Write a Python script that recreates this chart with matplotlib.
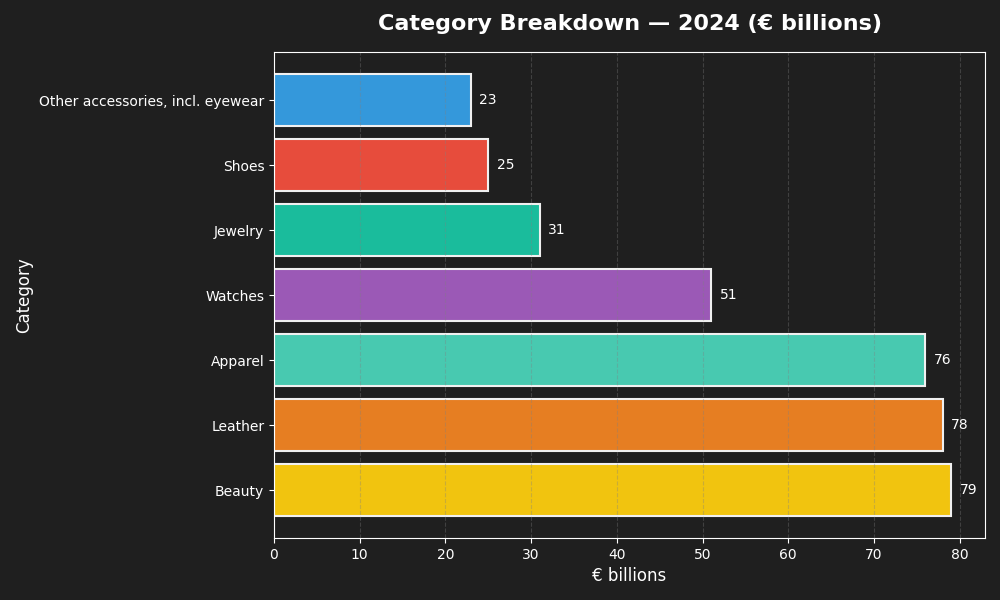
import matplotlib
matplotlib.use("Agg")
import matplotlib.pyplot as plt

categories = ["Beauty", "Leather", "Apparel", "Watches", "Jewelry", "Shoes",
              "Other accessories, incl. eyewear"]
values = [79, 78, 76, 51, 31, 25, 23]
colors = ["#f1c40f", "#e67e22", "#48c9b0", "#9b59b6", "#1abc9c", "#e74c3c", "#3498db"]

bg = "#1f1f1f"
fig = plt.figure(figsize=(10, 6), dpi=100, facecolor=bg)
ax = fig.add_axes([0.274, 0.103, 0.711, 0.810])
ax.set_facecolor(bg)

bars = ax.barh(categories, values, color=colors, edgecolor="#f0f0f0",
               linewidth=1.5, height=0.8, zorder=2)
ax.bar_label(bars, labels=[f"{v}" for v in values], padding=6,
             color="white", fontsize=10)

ax.set_xlim(0, max(values) * 1.05)
ax.xaxis.grid(True, linestyle="--", color="#808080", linewidth=0.8,
              alpha=0.35, zorder=3)
ax.set_axisbelow(False)

for s in ax.spines.values():
    s.set_color("white")
    s.set_zorder(4)
ax.tick_params(colors="white", labelsize=10)
ax.set_xlabel("€ billions", color="white", fontsize=12)
ax.set_ylabel("Category", color="white", fontsize=12)
ax.set_title("Category Breakdown — 2024 (€ billions)", color="white",
             fontsize=16, fontweight="bold", pad=16)

fig.savefig("out.png", dpi=100, facecolor=bg)
